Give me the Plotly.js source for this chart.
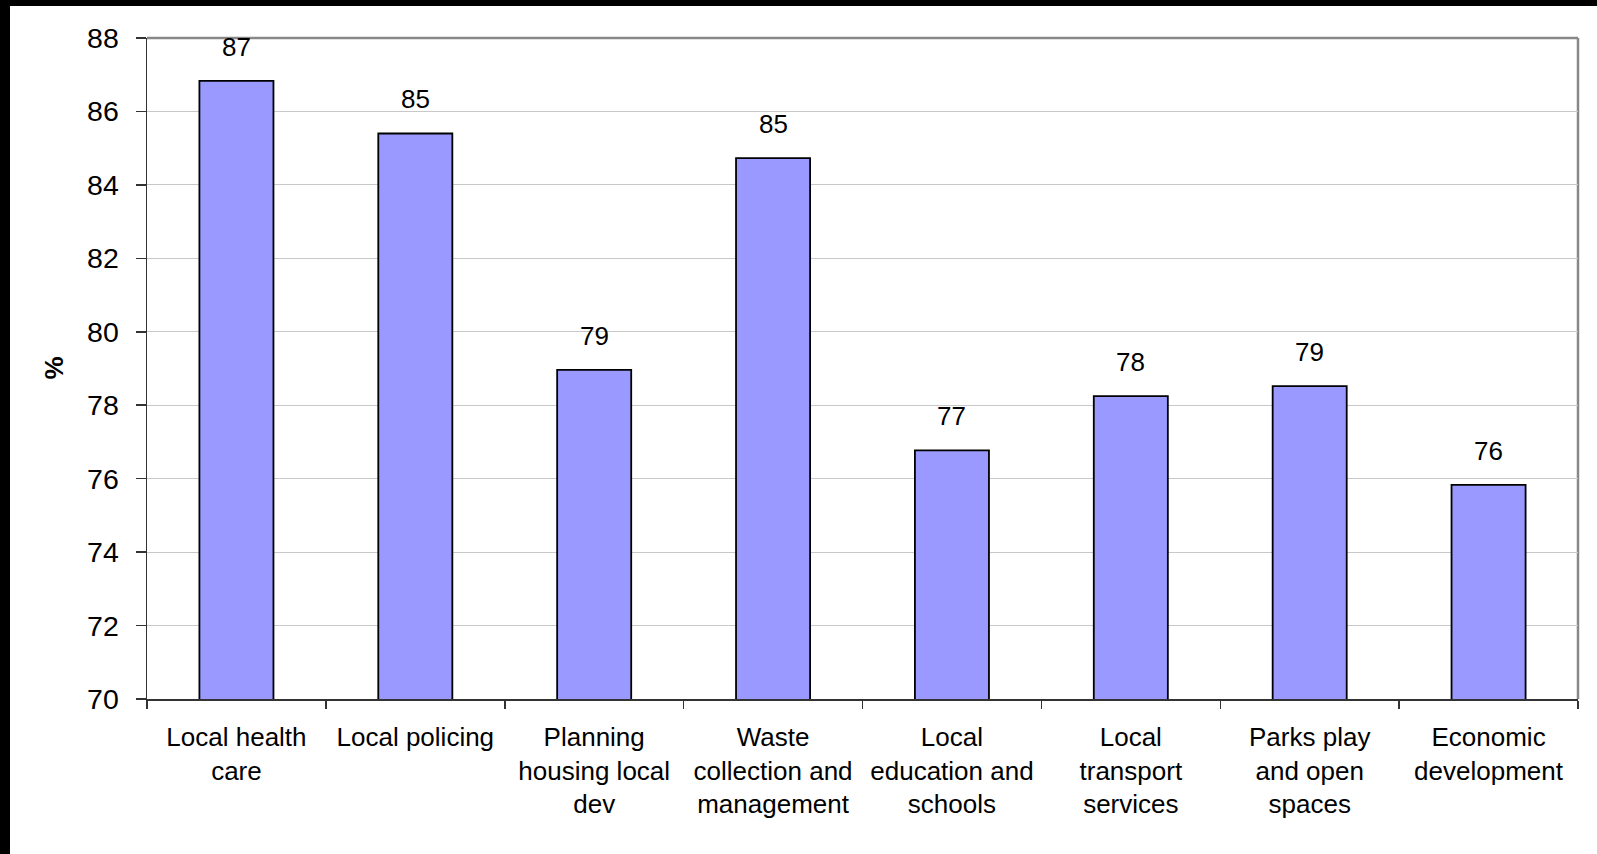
<!DOCTYPE html>
<html>
<head>
<meta charset="utf-8">
<script src="https://cdn.plot.ly/plotly-3.0.1.min.js"></script>
<style>
  html, body { margin: 0; padding: 0; background: #000; width: 1597px; height: 854px; overflow: hidden; }
  #chart { position: absolute; left: 10px; top: 6px; width: 1587px; height: 848px; background: #fff; }
</style>
</head>
<body>
<div id="chart"></div>
<script>
const categories = [
  "Local health care",
  "Local policing",
  "Planning housing local dev",
  "Waste collection and management",
  "Local education and schools",
  "Local transport services",
  "Parks play and open spaces",
  "Economic development"
];
const tickLabels = [
  "Local health<br>care",
  "Local policing",
  "Planning<br>housing local<br>dev",
  "Waste<br>collection and<br>management",
  "Local<br>education and<br>schools",
  "Local<br>transport<br>services",
  "Parks play<br>and open<br>spaces",
  "Economic<br>development"
];
const values = [86.83, 85.40, 78.96, 84.73, 76.77, 78.25, 78.52, 75.83];
const yTicks = [70, 72, 74, 76, 78, 80, 82, 84, 86, 88];

const FONT = "Liberation Sans, Arial, sans-serif";

const trace = {
  type: "bar",
  x: categories,
  y: values,
  marker: { color: "#9999FF", line: { color: "#000000", width: 1.8 } },
  hoverinfo: "x+y"
};

const annotations = categories.map((c, i) => ({
  x: c, y: values[i], xref: "x", yref: "y",
  text: String(Math.round(values[i])),
  showarrow: false, yanchor: "bottom", yshift: 17,
  font: { family: FONT, size: 26, color: "#000" }
}));
annotations.push({
  xref: "paper", yref: "paper", x: 0, y: 0.5,
  xanchor: "center", yanchor: "middle", xshift: -94,
  text: "<b>%</b>", textangle: -90, showarrow: false,
  font: { family: FONT, size: 26, color: "#000" }
});

const layout = {
  width: 1587, height: 848,
  paper_bgcolor: "#ffffff", plot_bgcolor: "#ffffff",
  margin: { l: 137, r: 19, t: 32, b: 155 },
  showlegend: false,
  bargap: 0.586,
  font: { family: FONT, color: "#000" },
  xaxis: {
    type: "category",
    tickvals: categories, ticktext: tickLabels,
    tickson: "boundaries", ticks: "outside", ticklen: 8, tickwidth: 1.5, tickcolor: "#333",
    showline: true, linecolor: "#333", linewidth: 1.5,
    showgrid: false,
    tickfont: { family: FONT, size: 26, color: "#000" },
    ticklabelstandoff: 14,
    automargin: false
  },
  yaxis: {
    range: [70, 88], tickvals: yTicks,
    ticks: "outside", ticklen: 10, tickwidth: 1.5, tickcolor: "#333",
    showline: true, linecolor: "#333", linewidth: 1.5,
    showgrid: true, gridcolor: "#c8c8c8", gridwidth: 1,
    zeroline: false,
    tickfont: { family: FONT, size: 28.5, color: "#000" },
    ticklabelstandoff: 11,
    automargin: false
  },
  shapes: [
    { type: "line", xref: "paper", yref: "paper", x0: 0, x1: 1, y0: 1, y1: 1, line: { color: "#888", width: 2.5 }, layer: "below" },
    { type: "line", xref: "paper", yref: "paper", x0: 1, x1: 1, y0: 0, y1: 1, line: { color: "#888", width: 2.5 }, layer: "below" }
  ],
  annotations: annotations
};

Plotly.newPlot("chart", [trace], layout, { displayModeBar: false, staticPlot: true });
</script>
</body>
</html>
